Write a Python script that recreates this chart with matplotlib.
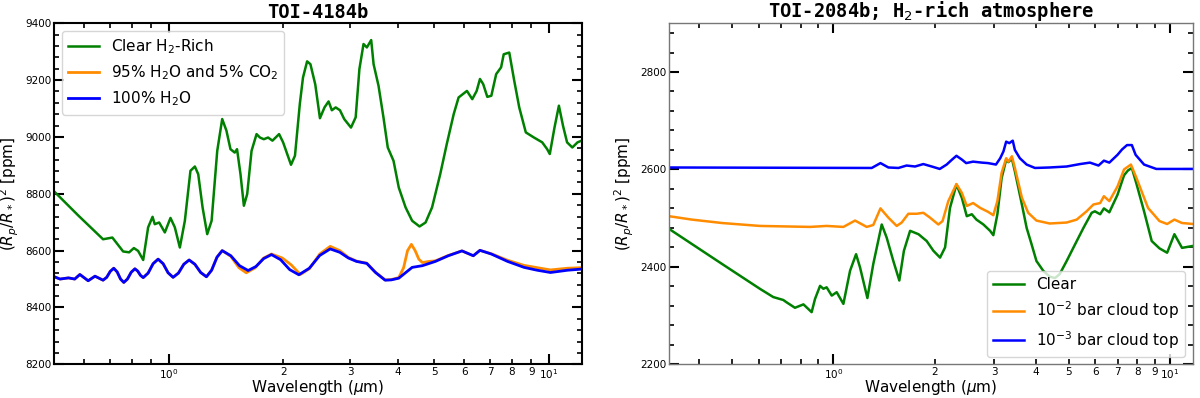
import numpy as np
import matplotlib
matplotlib.use('Agg')
import matplotlib.pyplot as plt
from matplotlib.ticker import LogLocator, FuncFormatter, MultipleLocator, AutoMinorLocator

plt.rcParams['font.family'] = ['DejaVu Sans']

# ---- TOI-4184b (left panel) ----
wl_clear_4184 = [0.5, 0.578, 0.672, 0.711, 0.759, 0.787, 0.81, 0.831, 0.857, 0.883,
                 0.907, 0.919, 0.944, 0.977, 1.011, 1.038, 1.07, 1.103, 1.141, 1.172,
                 1.196, 1.228, 1.263, 1.297, 1.342, 1.383, 1.419, 1.454, 1.492, 1.513,
                 1.545, 1.577, 1.609, 1.652, 1.703, 1.738, 1.779, 1.826, 1.875, 1.952,
                 2.0, 2.098, 2.149, 2.213, 2.256, 2.313, 2.36, 2.43, 2.5, 2.57,
                 2.634, 2.687, 2.75, 2.822, 2.896, 3.017, 3.104, 3.175, 3.255, 3.322,
                 3.41, 3.46, 3.565, 3.673, 3.77, 3.904, 4.03, 4.2, 4.37, 4.57,
                 4.74, 4.93, 5.18, 5.39, 5.62, 5.79, 6.09, 6.29, 6.46, 6.59,
                 6.72, 6.89, 7.06, 7.27, 7.49, 7.61, 7.87, 8.11, 8.36, 8.7,
                 9.14, 9.61, 9.9, 10.06, 10.35, 10.63, 10.9, 11.17, 11.53, 11.9, 12.2]
clear_4184 = [8808, 8724, 8640, 8646, 8597, 8594, 8609, 8599, 8567, 8682,
              8719, 8693, 8699, 8664, 8715, 8682, 8611, 8705, 8881, 8896,
              8869, 8752, 8658, 8705, 8951, 9063, 9022, 8957, 8945, 8957,
              8869, 8758, 8799, 8951, 9010, 8998, 8992, 8998, 8987, 9010,
              8981, 8902, 8934, 9116, 9209, 9266, 9256, 9185, 9066, 9104,
              9125, 9094, 9104, 9094, 9063, 9033, 9069, 9239, 9327, 9315,
              9341, 9256, 9180, 9069, 8963, 8916, 8822, 8752, 8705, 8685,
              8699, 8752, 8869, 8975, 9080, 9139, 9162, 9133, 9162, 9204,
              9186, 9141, 9145, 9221, 9245, 9291, 9297, 9198, 9104, 9016,
              8998, 8981, 8957, 8940, 9033, 9110, 9039, 8981, 8963, 8981, 8987]

wl_h2o_4184 = [0.5, 0.518, 0.545, 0.566, 0.584, 0.614, 0.64, 0.672, 0.687, 0.702,
               0.717, 0.732, 0.747, 0.762, 0.779, 0.797, 0.815, 0.829, 0.843, 0.857,
               0.883, 0.91, 0.938, 0.967, 0.9965, 1.027, 1.061, 1.096, 1.132, 1.172,
               1.214, 1.257, 1.297, 1.34, 1.383, 1.457, 1.536, 1.618, 1.696, 1.778,
               1.864, 1.97, 2.082, 2.2, 2.344, 2.497, 2.66, 2.82, 2.97, 3.12,
               3.32, 3.5, 3.71, 3.85, 4.03, 4.37, 4.65, 5.03, 5.44, 5.91,
               6.33, 6.59, 7.06, 7.79, 8.61, 9.32, 10.1, 11.2, 12.2]
h2o_4184 = [8508, 8500, 8504, 8500, 8516, 8494, 8510, 8496, 8506, 8527,
            8538, 8525, 8500, 8488, 8500, 8524, 8536, 8528, 8513, 8505,
            8521, 8554, 8570, 8554, 8522, 8506, 8521, 8552, 8567, 8552,
            8523, 8508, 8531, 8577, 8600, 8582, 8547, 8530, 8544, 8572,
            8586, 8568, 8533, 8515, 8538, 8583, 8606, 8594, 8574, 8562,
            8555, 8523, 8496, 8497, 8503, 8541, 8547, 8562, 8582, 8599,
            8582, 8601, 8588, 8562, 8541, 8531, 8523, 8531, 8535]

wl_co2_4184 = [0.5, 0.518, 0.545, 0.566, 0.584, 0.614, 0.64, 0.672, 0.687, 0.702,
               0.717, 0.732, 0.747, 0.762, 0.779, 0.797, 0.815, 0.829, 0.843, 0.857,
               0.883, 0.91, 0.938, 0.967, 0.9965, 1.027, 1.061, 1.096, 1.132, 1.172,
               1.214, 1.257, 1.297, 1.34, 1.383, 1.457, 1.53, 1.6, 1.69, 1.778,
               1.864, 1.99, 2.1, 2.22, 2.344, 2.497, 2.66, 2.82, 2.97, 3.12,
               3.32, 3.5, 3.71, 3.85, 4.03, 4.15, 4.25, 4.35, 4.45, 4.55,
               4.65, 4.84, 5.03, 5.44, 5.91, 6.33, 6.59, 7.06, 7.79, 8.61,
               9.32, 10.1, 11.2, 12.2]
co2_4184 = [8508, 8500, 8504, 8500, 8516, 8494, 8510, 8496, 8506, 8527,
            8538, 8525, 8500, 8488, 8500, 8524, 8536, 8528, 8513, 8505,
            8521, 8554, 8570, 8554, 8522, 8506, 8521, 8552, 8567, 8552,
            8523, 8508, 8531, 8577, 8600, 8580, 8540, 8522, 8540, 8574,
            8588, 8574, 8550, 8516, 8536, 8588, 8615, 8600, 8576, 8563,
            8556, 8524, 8497, 8498, 8505, 8540, 8600, 8622, 8600, 8570,
            8558, 8562, 8564, 8583, 8599, 8582, 8601, 8589, 8566, 8548,
            8540, 8532, 8538, 8540]

# ---- TOI-2084b (right panel) ----
wl_clear_2084 = [0.325, 0.467, 0.605, 0.663, 0.71, 0.727, 0.769, 0.815, 0.862, 0.882,
                 0.913, 0.934, 0.955, 0.989, 1.023, 1.071, 1.121, 1.168, 1.2, 1.262,
                 1.314, 1.392, 1.44, 1.507, 1.57, 1.62, 1.69, 1.79, 1.893, 1.982,
                 2.074, 2.147, 2.22, 2.32, 2.407, 2.49, 2.577, 2.66, 2.79, 2.92,
                 2.986, 3.07, 3.16, 3.26, 3.31, 3.39, 3.46, 3.63, 3.75, 3.88,
                 4.01, 4.2, 4.39, 4.55, 4.7, 4.93, 5.22, 5.53, 5.85, 5.98,
                 6.2, 6.36, 6.6, 6.98, 7.3, 7.5, 7.7, 7.95, 8.37, 8.82,
                 9.3, 9.8, 10.3, 10.85, 11.7]
clear_2084 = [2478, 2406, 2355, 2338, 2332, 2327, 2316, 2323, 2307, 2334,
              2361, 2355, 2358, 2341, 2348, 2324, 2392, 2426, 2399, 2336,
              2406, 2487, 2460, 2412, 2372, 2433, 2474, 2467, 2453, 2433,
              2419, 2440, 2521, 2569, 2542, 2504, 2508, 2497, 2487, 2474,
              2465, 2508, 2582, 2620, 2615, 2622, 2596, 2528, 2480, 2446,
              2412, 2392, 2380, 2377, 2385, 2412, 2446, 2480, 2511, 2514,
              2508, 2520, 2512, 2548, 2588, 2598, 2603, 2570, 2514, 2453,
              2438, 2429, 2467, 2439, 2443]

wl_cloud2_2084 = [0.325, 0.38, 0.467, 0.605, 0.853, 0.955, 1.071, 1.16, 1.256, 1.314,
                  1.38, 1.457, 1.542, 1.596, 1.67, 1.768, 1.85, 1.937, 2.05, 2.11,
                  2.195, 2.32, 2.407, 2.49, 2.6, 2.73, 2.88, 2.986, 3.07, 3.16,
                  3.26, 3.31, 3.39, 3.46, 3.63, 3.79, 4.01, 4.39, 4.93, 5.28,
                  5.65, 5.92, 6.2, 6.36, 6.6, 6.98, 7.3, 7.65, 7.95, 8.6,
                  9.3, 9.8, 10.3, 10.85, 11.7]
cloud2_2084 = [2504, 2497, 2490, 2484, 2482, 2484, 2482, 2495, 2482, 2486,
               2520, 2501, 2484, 2491, 2509, 2509, 2511, 2501, 2487, 2494,
               2535, 2570, 2552, 2525, 2531, 2521, 2513, 2506, 2535, 2593,
               2623, 2616, 2627, 2603, 2542, 2511, 2495, 2489, 2491, 2497,
               2514, 2528, 2531, 2545, 2535, 2565, 2600, 2610, 2582, 2521,
               2494, 2488, 2497, 2490, 2488]

wl_cloud3_2084 = [0.325, 1.3, 1.38, 1.457, 1.56, 1.65, 1.748, 1.85, 1.96, 2.07,
                  2.17, 2.25, 2.32, 2.41, 2.48, 2.6, 2.76, 2.88, 3.04, 3.13,
                  3.2, 3.26, 3.33, 3.41, 3.46, 3.58, 3.75, 3.97, 4.39, 4.93,
                  5.4, 5.78, 6.13, 6.36, 6.6, 6.98, 7.2, 7.45, 7.7, 7.9,
                  8.37, 9.1, 11.7]
cloud3_2084 = [2604, 2603, 2613, 2604, 2603, 2608, 2606, 2611, 2606, 2601,
               2610, 2620, 2628, 2620, 2613, 2616, 2614, 2613, 2610, 2623,
               2637, 2657, 2654, 2659, 2640, 2623, 2610, 2603, 2604, 2606,
               2611, 2614, 2608, 2618, 2614, 2630, 2641, 2650, 2650, 2630,
               2610, 2601, 2601]


def minor_fmt(x, pos):
    if x >= 1.5:
        return '%d' % round(x)
    return ''


def style_ax(ax, spine_lw, spine_col):
    ax.set_xscale('log')
    ax.xaxis.set_minor_locator(LogLocator(base=10, subs=np.arange(2, 10), numticks=20))
    ax.xaxis.set_minor_formatter(FuncFormatter(minor_fmt))
    ax.yaxis.set_major_locator(MultipleLocator(200))
    ax.yaxis.set_minor_locator(AutoMinorLocator(5))
    ax.tick_params(which='both', direction='in', top=True, right=True,
                   labelsize=7.5, pad=2, color='black')
    ax.tick_params(which='major', length=7, width=1.5)
    ax.tick_params(which='minor', length=3.5, width=1.2)
    for s in ax.spines.values():
        s.set_linewidth(spine_lw)
        s.set_edgecolor(spine_col)
    ax.set_xlabel('Wavelength ($\\mu$m)', fontsize=11, labelpad=-2)
    ax.set_ylabel('$(R_p/R_*)^2$ [ppm]', fontsize=11, labelpad=3)


fig = plt.figure(figsize=(12, 3.98), dpi=100)
ax1 = fig.add_axes([0.0452, 0.0847, 0.4395, 0.8568])
ax2 = fig.add_axes([0.5575, 0.0847, 0.4367, 0.8568])

ax1.plot(wl_clear_4184, clear_4184, color='green', lw=1.8, label='Clear H$_2$-Rich')
ax1.plot(wl_co2_4184, co2_4184, color='darkorange', lw=2, label='95% H$_2$O and 5% CO$_2$')
ax1.plot(wl_h2o_4184, h2o_4184, color='blue', lw=2, label='100% H$_2$O')
style_ax(ax1, 1.5, 'black')
ax1.set_xlim(0.5, 12.2)
ax1.set_ylim(8200, 9400)
ax1.set_title('TOI-4184b', fontsize=13.5, fontweight='bold', family='DejaVu Sans Mono', pad=4)
ax1.legend(loc='upper left', fontsize=11)

ax2.plot(wl_clear_2084, clear_2084, color='green', lw=1.8, label='Clear')
ax2.plot(wl_cloud2_2084, cloud2_2084, color='darkorange', lw=1.8, label='10$^{-2}$ bar cloud top')
ax2.plot(wl_cloud3_2084, cloud3_2084, color='blue', lw=1.8, label='10$^{-3}$ bar cloud top')
style_ax(ax2, 1.0, '#777777')
ax2.set_xlim(0.325, 11.7)
ax2.set_ylim(2200, 2900)
ax2.set_title('TOI-2084b; H$_2$-rich atmosphere', fontsize=13.5, fontweight='bold',
              family='DejaVu Sans Mono', pad=4)
ax2.legend(loc='lower right', fontsize=11)

fig.savefig('out.png', dpi=100)
